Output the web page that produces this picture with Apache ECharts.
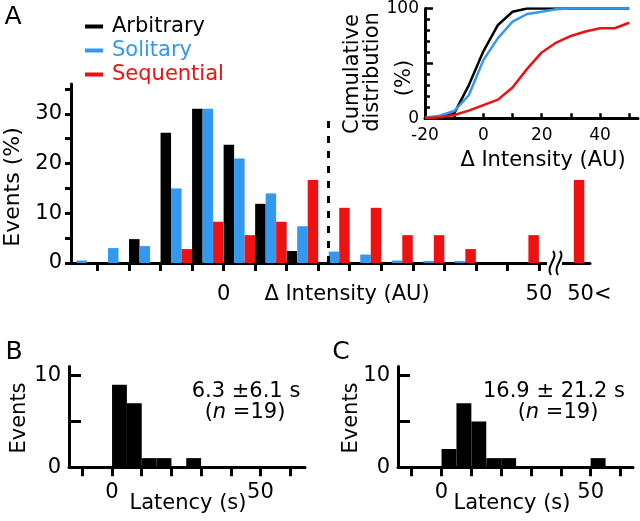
<!DOCTYPE html>
<html><head><meta charset="utf-8">
<script src="https://cdn.jsdelivr.net/npm/echarts@6/dist/echarts.min.js"></script>
<style>html,body{margin:0;padding:0;background:#fff}#c{width:640px;height:521px}</style>
</head><body><div id="c"></div>
<script>
const FONT = 'DejaVu Sans';
const BLACK = '#000000', BLUE = '#3399f0', RED = '#ee1111';

// ---- Panel A: histogram (Events %) ----
const binCenters = [-22.5,-17.5,-12.5,-7.5,-2.5,2.5,7.5,12.5,17.5,22.5,27.5,32.5,37.5,42.5,47.5,54.7];
const arbitrary  = [0,0,4.8,26.2,31.0,23.8,11.9,2.4,0,0,0,0,0,0,0,0];
const solitary   = [0.5,3.0,3.4,15.0,31.0,21.0,14.0,7.4,2.3,1.7,0.5,0.4,0.4,0,0,0];
const sequential = [0,0,0,2.8,8.3,5.6,8.3,16.7,11.1,11.1,5.6,5.6,2.8,0,5.6,16.7];
const mainXTicks = [-20,-15,-10,-5,0,5,10,15,20,25,30,35,40,45,50];
const mainXLabels = [0,50,58];
const mainXLabelText = {0:'0',50:'50',58:'50<'};
const mainYTicks = [0,5,10,15,20,25,30,35];
const mainYLabels = [0,10,20,30];
const threshold = 15, thresholdTop = 30;

// ---- Inset: cumulative distribution ----
const cumX = [-20,-15,-10,-5,0,5,10,15,20,25,30,35,40,45,50];
const cumArbitrary  = [0,0.5,4.5,30,61,85,97,100,100,100,100,100,100,100,100];
const cumSolitary   = [0.5,2.4,6.6,21,53,73,88,95,97,99.4,100,100,100,100,100];
const cumSequential = [0,1,3,7,12,17,28,45,60,69,75,79,82,82,87];
const insetXTicks = [-10,0,10,20,30,40,50];
const insetXLabels = [-20,0,20,40];

// ---- Panels B and C: latency histograms ----
const latBinsB = [2.5,7.5,12.5,17.5,27.5];
const countsB  = [9,7,1,1,1];
const latBinsC = [2.5,7.5,12.5,17.5,22.5,52.5];
const countsC  = [2,7,5,1,1,1];
const latXTicks = [-10,0,10,20,30,40,50,60];
const latXLabels = [0,50];
const latYTicks = [0,5,10];
const latYLabels = [0,10];

const chart = echarts.init(document.getElementById('c'), null, {renderer:'canvas'});

function pairs(xs, ys){ return xs.map((x,i)=>[x, ys[i]]); }
const axLine = {show:true, onZero:false, lineStyle:{color:BLACK, width:3}};
const lbl = (size, extra) => Object.assign({color:BLACK, fontFamily:FONT, fontSize:size}, extra||{});
function txt(text, x, y, size, opts){
  opts = opts || {};
  return {type:'text', x:x, y:y, rotation: opts.rotation||0, z:100,
    style:Object.assign({text:text, fill:opts.color||BLACK, fontFamily:FONT, fontSize:size,
      align:'center', verticalAlign:'middle', fontStyle:opts.fontStyle||'normal'}, opts.style||{})};
}

const option = {
  animation:false,
  backgroundColor:'#ffffff',
  textStyle:{fontFamily:FONT},
  legend:{
    left:85, top:16, orient:'vertical', padding:0, itemGap:3,
    itemWidth:18, itemHeight:4, icon:'rect',
    textStyle:{fontFamily:FONT, fontSize:21, padding:[0,0,0,4]},
    data:[
      {name:'Arbitrary', textStyle:{color:BLACK}},
      {name:'Solitary', textStyle:{color:BLUE}},
      {name:'Sequential', textStyle:{color:RED}}
    ]
  },
  grid:[
    {left:71, top:84, width:519, height:179},
    {left:425, top:6.7, width:213, height:111.6},
    {left:69, top:366.5, width:236, height:100.8},
    {left:398, top:366.5, width:235, height:100.8}
  ],
  xAxis:[
    {gridIndex:0, type:'value', min:-24.2, max:58.1, axisLine:axLine, splitLine:{show:false},
     axisTick:{show:true, customValues:mainXTicks, length:8, lineStyle:{width:3,color:BLACK}},
     axisLabel:lbl(21,{customValues:mainXLabels, margin:21, formatter:v=>mainXLabelText[v]!==undefined?mainXLabelText[v]:''})},
    {gridIndex:1, type:'value', min:-20, max:53, axisLine:axLine, splitLine:{show:false},
     axisTick:{show:true, inside:true, customValues:insetXTicks, length:5, lineStyle:{width:2.5,color:BLACK}},
     axisLabel:lbl(17,{customValues:insetXLabels, margin:9})},
    {gridIndex:2, type:'value', min:-14.5, max:65, axisLine:axLine, splitLine:{show:false},
     axisTick:{show:true, customValues:latXTicks, length:9, lineStyle:{width:3,color:BLACK}},
     axisLabel:lbl(21,{customValues:latXLabels, margin:15})},
    {gridIndex:3, type:'value', min:-14.6, max:64.2, axisLine:axLine, splitLine:{show:false},
     axisTick:{show:true, customValues:latXTicks, length:9, lineStyle:{width:3,color:BLACK}},
     axisLabel:lbl(21,{customValues:latXLabels, margin:15})}
  ],
  yAxis:[
    {gridIndex:0, type:'value', min:0, max:36, axisLine:axLine, splitLine:{show:false},
     axisTick:{show:true, customValues:mainYTicks, length:6, lineStyle:{width:3,color:BLACK}},
     axisLabel:lbl(21,{customValues:mainYLabels, margin:9})},
    {gridIndex:1, type:'value', min:0, max:100, interval:50, axisLine:axLine, splitLine:{show:false},
     axisTick:{show:true, inside:true, length:8, lineStyle:{width:2.5,color:BLACK}},
     minorTick:{show:true, splitNumber:5, length:5, lineStyle:{width:2.5,color:BLACK}},
     axisLabel:lbl(17,{margin:6, formatter:v=>v===50?'':String(v)})},
    {gridIndex:2, type:'value', min:0, max:11, axisLine:axLine, splitLine:{show:false},
     axisTick:{show:true, inside:true, customValues:latYTicks, length:12, lineStyle:{width:3,color:BLACK}},
     axisLabel:lbl(21,{customValues:latYLabels, margin:8})},
    {gridIndex:3, type:'value', min:0, max:11, axisLine:axLine, splitLine:{show:false},
     axisTick:{show:true, inside:true, customValues:latYTicks, length:12, lineStyle:{width:3,color:BLACK}},
     axisLabel:lbl(21,{customValues:latYLabels, margin:8})}
  ],
  series:[
    {name:'Arbitrary', type:'bar', xAxisIndex:0, yAxisIndex:0, data:pairs(binCenters, arbitrary),
     barWidth:10.5, barGap:'0%', itemStyle:{color:BLACK}},
    {name:'Solitary', type:'bar', xAxisIndex:0, yAxisIndex:0, data:pairs(binCenters, solitary),
     barWidth:10.5, barGap:'0%', itemStyle:{color:BLUE}},
    {name:'Sequential', type:'bar', xAxisIndex:0, yAxisIndex:0, data:pairs(binCenters, sequential),
     barWidth:10.5, barGap:'0%', itemStyle:{color:RED},
     markLine:{silent:true, symbol:['none','none'], label:{show:false}, animation:false,
       lineStyle:{type:[7,8], width:3, color:BLACK},
       data:[[{coord:[threshold,0]},{coord:[threshold,thresholdTop]}]]}},
    {name:'cumArbitrary', type:'line', xAxisIndex:1, yAxisIndex:1, data:pairs(cumX, cumArbitrary),
     showSymbol:false, lineStyle:{color:BLACK, width:2.5}, itemStyle:{color:BLACK}},
    {name:'cumSolitary', type:'line', xAxisIndex:1, yAxisIndex:1, data:pairs(cumX, cumSolitary),
     showSymbol:false, lineStyle:{color:BLUE, width:2.5}, itemStyle:{color:BLUE}},
    {name:'cumSequential', type:'line', xAxisIndex:1, yAxisIndex:1, data:pairs(cumX, cumSequential),
     showSymbol:false, lineStyle:{color:RED, width:2.5}, itemStyle:{color:RED}},
    {name:'latB', type:'bar', xAxisIndex:2, yAxisIndex:2, data:pairs(latBinsB, countsB),
     barWidth:'100%', itemStyle:{color:BLACK}},
    {name:'latC', type:'bar', xAxisIndex:3, yAxisIndex:3, data:pairs(latBinsC, countsC),
     barWidth:'100%', itemStyle:{color:BLACK}}
  ],
  graphic:[
    // axis break marker on main x axis
    {type:'rect', z:100, shape:{x:547, y:257, width:15, height:12}, style:{fill:'#fff'}},
    {type:'bezierCurve', z:101, shape:{x1:553,y1:251,cpx1:559,cpy1:258,cpx2:545,cpy2:266,x2:551,y2:275}, style:{stroke:BLACK, lineWidth:2, fill:null}},
    {type:'bezierCurve', z:101, shape:{x1:560,y1:251,cpx1:566,cpy1:258,cpx2:552,cpy2:266,x2:558,y2:275}, style:{stroke:BLACK, lineWidth:2, fill:null}},
    txt('A', 13, 17, 25),
    txt('B', 14, 352, 25),
    txt('C', 341, 352, 25),
    txt('Events (%)', 13, 187, 22, {rotation:Math.PI/2}),
    txt('Δ Intensity (AU)', 347, 295, 21),
    txt('Cumulative', 353, 74, 21, {rotation:Math.PI/2}),
    txt('distribution', 373, 72, 21, {rotation:Math.PI/2}),
    txt('(%)', 405, 78, 21, {rotation:Math.PI/2}),
    txt('Δ Intensity (AU)', 543, 161, 21),
    txt('Events', 20, 418, 21, {rotation:Math.PI/2}),
    txt('Events', 352, 418, 21, {rotation:Math.PI/2}),
    txt('Latency (s)', 188, 504, 21),
    txt('Latency (s)', 512, 504, 21),
    txt('6.3 ±6.1 s', 246, 392, 21),
    {type:'text', x:245, y:413, z:100, style:{text:'({i|n} =19)', fill:BLACK, fontFamily:FONT, fontSize:21, align:'center', verticalAlign:'middle',
      rich:{i:{fontStyle:'italic', fontFamily:FONT, fontSize:21, fill:BLACK}}}},
    txt('16.9 ± 21.2 s', 554, 392, 21),
    {type:'text', x:558, y:413, z:100, style:{text:'({i|n} =19)', fill:BLACK, fontFamily:FONT, fontSize:21, align:'center', verticalAlign:'middle',
      rich:{i:{fontStyle:'italic', fontFamily:FONT, fontSize:21, fill:BLACK}}}}
  ]
};
chart.setOption(option);
</script></body></html>
